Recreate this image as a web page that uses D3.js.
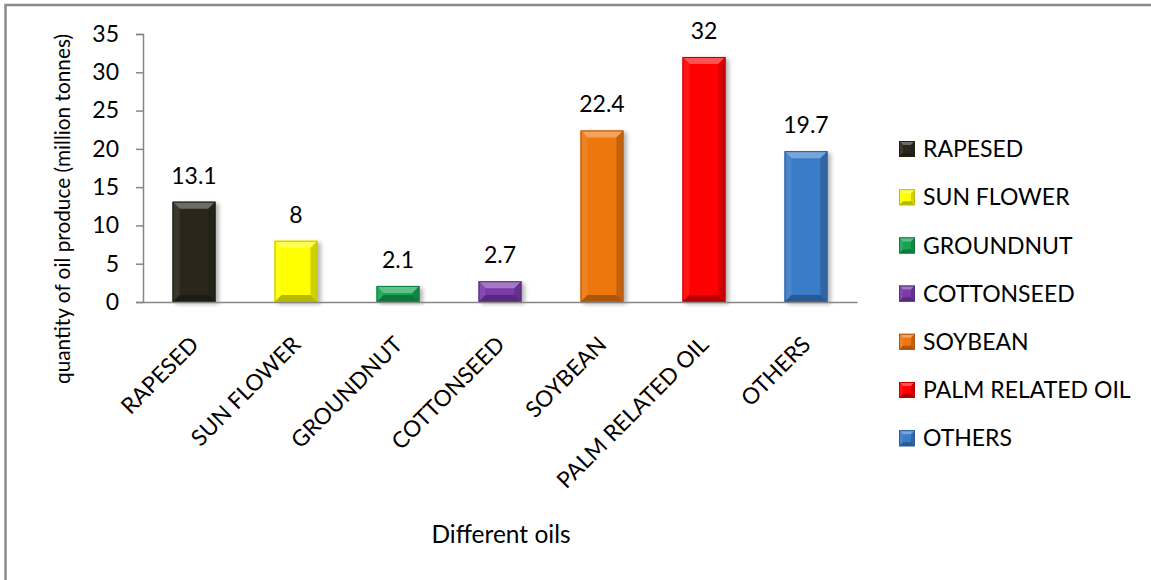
<!DOCTYPE html>
<html>
<head>
<meta charset="utf-8">
<script src="https://cdn.jsdelivr.net/npm/d3@7"></script>
<style>
  html, body { margin: 0; padding: 0; background: #fff; }
  svg { display: block; font-family: Lato, "Open Sans", sans-serif; }
</style>
</head>
<body>
<svg id="chart" width="1151" height="580"></svg>
<script>
// World oil production by source (million tonnes)
const categories = ["RAPESED", "SUN FLOWER", "GROUNDNUT", "COTTONSEED", "SOYBEAN", "PALM RELATED OIL", "OTHERS"];
const values = [13.1, 8, 2.1, 2.7, 22.4, 32, 19.7];
const colors = ["#2a281c", "#ffff00", "#14a552", "#7a3aa8", "#ee7711", "#ff0000", "#3b7bc8"];
const yTicks = [0, 5, 10, 15, 20, 25, 30, 35];

const svg = d3.select("#chart");
const W = 1151, H = 580;
const plot = { left: 143, right: 857, top: 34, bottom: 302 };

// outer frame (open on right and bottom)
svg.append("path")
  .attr("d", `M5.5,${H} V5 H${W}`)
  .attr("fill", "none")
  .attr("stroke", "#8a8a8a")
  .attr("stroke-width", 2.5);

const x = d3.scaleBand()
  .domain(categories)
  .range([plot.left, plot.right])
  .paddingInner(0.58)
  .paddingOuter(0.29);

const y = d3.scaleLinear()
  .domain([0, 35])
  .range([plot.bottom, plot.top]);

// shading helper for the bevelled bars
function shade(c, k) {
  return k >= 0 ? d3.interpolateRgb(c, "#ffffff")(k) : d3.interpolateRgb(c, "#000000")(-k);
}

const defs = svg.append("defs");
const shadow = defs.append("filter").attr("id", "shadow")
  .attr("x", "-20%").attr("y", "-10%").attr("width", "150%").attr("height", "130%");
shadow.append("feGaussianBlur").attr("in", "SourceAlpha").attr("stdDeviation", 2.2);
shadow.append("feOffset").attr("dx", 2.5).attr("dy", 2).attr("result", "b");
shadow.append("feComponentTransfer").append("feFuncA").attr("type", "linear").attr("slope", 0.3);
const m = shadow.append("feMerge");
m.append("feMergeNode");
m.append("feMergeNode").attr("in", "SourceGraphic");

function bevelBox(g, x0, y0, w, h, c, b) {
  const x1 = x0 + w, y1 = y0 + h;
  const bb = Math.min(b, h / 2, w / 2);
  g.append("rect").attr("x", x0).attr("y", y0).attr("width", w).attr("height", h).attr("fill", c);
  // top facet
  g.append("path")
    .attr("d", `M${x0},${y0} L${x1},${y0} L${x1 - bb},${y0 + bb} L${x0 + bb},${y0 + bb} Z`)
    .attr("fill", shade(c, 0.32));
  // left facet
  g.append("path")
    .attr("d", `M${x0},${y0} L${x0 + bb},${y0 + bb} L${x0 + bb},${y1 - bb} L${x0},${y1} Z`)
    .attr("fill", shade(c, 0.08));
  // right facet
  g.append("path")
    .attr("d", `M${x1},${y0} L${x1 - bb},${y0 + bb} L${x1 - bb},${y1 - bb} L${x1},${y1} Z`)
    .attr("fill", shade(c, -0.18));
  // bottom facet
  g.append("path")
    .attr("d", `M${x0},${y1} L${x0 + bb},${y1 - bb} L${x1 - bb},${y1 - bb} L${x1},${y1} Z`)
    .attr("fill", shade(c, -0.28));
  g.append("rect").attr("x", x0 + 0.5).attr("y", y0 + 0.5).attr("width", w - 1).attr("height", h - 1)
    .attr("fill", "none").attr("stroke", shade(c, -0.25)).attr("stroke-width", 1);
}

// bars
const bars = svg.append("g");
categories.forEach((cat, i) => {
  const g = bars.append("g").attr("filter", "url(#shadow)");
  const y0 = y(values[i]);
  bevelBox(g, x(cat), y0, x.bandwidth(), y(0) - y0, colors[i], 7);
});

// y axis
const yAxis = svg.append("g")
  .attr("transform", `translate(${plot.left},0)`)
  .call(d3.axisLeft(y).tickValues(yTicks).tickSize(7).tickPadding(17).tickFormat(d3.format("d")));
yAxis.select(".domain").attr("stroke", "#868686").attr("stroke-width", 1.5);
yAxis.selectAll(".tick line").attr("stroke", "#868686").attr("stroke-width", 1.5);
yAxis.selectAll(".tick text").attr("font-size", 23).attr("fill", "#000").attr("font-family", "Lato");

// x axis baseline with rotated category labels
const xAxis = svg.append("g")
  .attr("transform", `translate(0,${plot.bottom})`)
  .call(d3.axisBottom(x).tickSize(0).tickPadding(0));
xAxis.select(".domain").attr("stroke", "#868686").attr("stroke-width", 1.5);
xAxis.selectAll(".tick text")
  .attr("font-size", 22.5)
  .attr("font-family", "Lato")
  .attr("fill", "#000")
  .attr("text-anchor", "end")
  .attr("dy", 0)
  .attr("transform", "translate(6,44) rotate(-45)");

// value labels
svg.append("g").selectAll("text")
  .data(values)
  .join("text")
  .attr("x", (d, i) => x(categories[i]) + x.bandwidth() / 2)
  .attr("y", d => y(d) - 18)
  .attr("text-anchor", "middle")
  .attr("font-size", 23)
  .attr("fill", "#000")
  .text(d => d);

// axis titles
svg.append("text")
  .attr("transform", "translate(70,209) rotate(-90)")
  .attr("text-anchor", "middle")
  .attr("font-size", 20.8)
  .attr("fill", "#000")
  .text("quantity of oil produce (million tonnes)");

svg.append("text")
  .attr("x", 501)
  .attr("y", 543)
  .attr("text-anchor", "middle")
  .attr("font-size", 24.5)
  .attr("fill", "#000")
  .text("Different oils");

// legend
const legend = svg.append("g");
categories.forEach((cat, i) => {
  const cy = 149 + i * 48.2;
  const g = legend.append("g");
  bevelBox(g, 899, cy - 8, 16, 16, colors[i], 4);
  g.append("text")
    .attr("x", 923)
    .attr("y", cy)
    .attr("dy", "0.36em")
    .attr("font-size", 23)
    .attr("fill", "#000")
    .text(cat);
});
</script>
</body>
</html>
